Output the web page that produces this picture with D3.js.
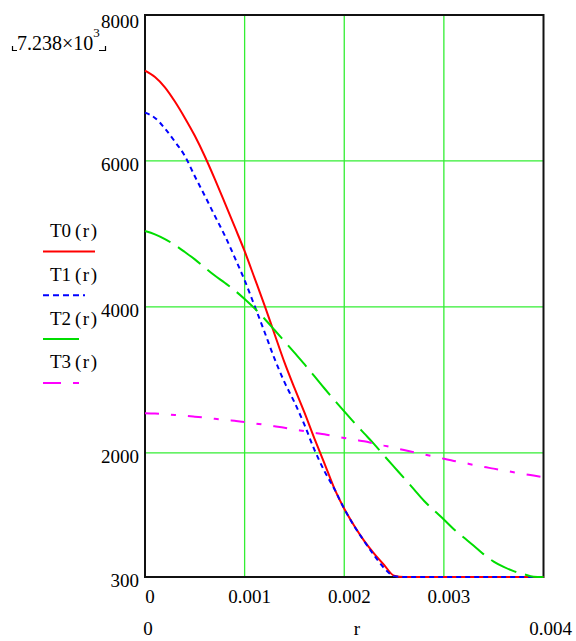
<!DOCTYPE html>
<html lang="en-US">
<head>
<meta charset="utf-8">
<script src="https://d3js.org/d3.v7.min.js"></script>
</head>
<body style="margin:0; background:#fff">
<svg width="576" height="641" font-family="Liberation Serif" font-size="19"></svg>

<script>
// radius samples (m)
var r = [0, 0.0001, 0.0002, 0.0003, 0.0004, 0.0005, 0.0006, 0.0007, 0.0008, 0.0009,
    0.001, 0.0011, 0.0012, 0.0013, 0.0014, 0.0015, 0.0016, 0.0017, 0.0018, 0.0019,
    0.002, 0.0021, 0.0022, 0.0023, 0.0024, 0.0025, 0.0026, 0.0027, 0.0028, 0.0029,
    0.003, 0.0031, 0.0032, 0.0033, 0.0034, 0.0035, 0.0036, 0.0037, 0.0038, 0.0039, 0.004];

// temperatures
var T0 = [7238, 7150, 7010, 6815, 6590, 6345, 6065, 5755, 5430, 5099,
    4764, 4395, 4022, 3630, 3240, 2890, 2555, 2200, 1861, 1515,
    1234, 1002, 795, 620, 465, 318, 300, 300, 300, 300,
    300, 300, 300, 300, 300, 300, 300, 300, 300, 300, 300];
var T1 = [6662, 6590, 6445, 6265, 6069, 5790, 5524, 5251, 4981, 4680,
    4365, 4015, 3657, 3292, 2969, 2694, 2387, 2045, 1754, 1508,
    1235, 997, 791, 596, 423, 312, 300, 300, 300, 300,
    300, 300, 300, 300, 300, 300, 300, 300, 300, 300, 300];
var T2 = [5041, 4995, 4930, 4848, 4752, 4652, 4540, 4430, 4331, 4227,
    4109, 3980, 3838, 3684, 3529, 3373, 3216, 3052, 2886, 2725,
    2570, 2415, 2267, 2120, 1963, 1809, 1656, 1501, 1345, 1213,
    1088, 955, 841, 728, 610, 511, 438, 380, 340, 305, 300];
var T3 = [2545, 2540, 2530, 2520, 2510, 2497, 2483, 2468, 2455, 2440,
    2425, 2405, 2385, 2365, 2345, 2320, 2298, 2275, 2255, 2230,
    2205, 2180, 2160, 2130, 2100, 2070, 2040, 2010, 1980, 1950,
    1920, 1890, 1865, 1835, 1808, 1785, 1760, 1735, 1712, 1690, 1668];

var names = ["T0", "T1", "T2", "T3"];
var yTicks = [300, 2000, 4000, 6000, 8000];
var yGrid = [2000, 4000, 6000];
var xTicks = [0, 0.001, 0.002, 0.003];
var xEnds = ["0", "0.004"];
var xTitle = "r";
var maxMant = "7.238×10", maxExp = "3";

var svg = d3.select("svg");
var x = d3.scaleLinear().domain([0, 0.004]).range([145, 543.5]);
var y = d3.scaleLinear().domain([300, 8000]).range([577, 15]);

var series = [
    {name: names[0], values: T0, color: "#ff0000", dash: null, legendLen: 52},
    {name: names[1], values: T1, color: "#0000ff", dash: "5,4", legendLen: 42, legendDash: "6,4"},
    {name: names[2], values: T2, color: "#00dd00", dash: "28,9", legendLen: 36, legendDash: null},
    {name: names[3], values: T3, color: "#ff00ff", dash: "14,12,5,12", legendLen: 36, legendDash: "18,12,6,12"}
];

// grid
var gridColor = "#33ee33";
svg.append("g").selectAll("line")
    .data(xTicks.filter(d => d > 0))
    .enter().append("line")
    .attr("x1", d => x(d)).attr("x2", d => x(d))
    .attr("y1", y(8000)).attr("y2", y(300))
    .attr("stroke", gridColor).attr("stroke-width", 1.3);
svg.append("g").selectAll("line")
    .data(yGrid)
    .enter().append("line")
    .attr("x1", x(0)).attr("x2", x(0.004))
    .attr("y1", d => y(d)).attr("y2", d => y(d))
    .attr("stroke", gridColor).attr("stroke-width", 1.3);

// frame
svg.append("rect")
    .attr("x", x(0)).attr("y", y(8000))
    .attr("width", x(0.004) - x(0)).attr("height", y(300) - y(8000))
    .attr("fill", "none").attr("stroke", "#111").attr("stroke-width", 2);

// curves
var line = d3.line().curve(d3.curveMonotoneX).x(d => x(d[0])).y(d => y(d[1]));
svg.append("g").selectAll("path")
    .data(series)
    .enter().append("path")
    .attr("d", s => line(r.map((v, i) => [v, s.values[i]])))
    .attr("fill", "none")
    .attr("stroke", s => s.color)
    .attr("stroke-width", 2)
    .attr("stroke-dasharray", s => s.dash);

// y tick labels
svg.append("g").selectAll("text")
    .data(yTicks)
    .enter().append("text")
    .attr("x", 139)
    .attr("y", d => Math.max(y(d) + 10, 28))
    .attr("text-anchor", "end")
    .text(d => d);

// x tick labels
svg.append("g").selectAll("text")
    .data(xTicks)
    .enter().append("text")
    .attr("x", d => x(d) + 5)
    .attr("y", 603)
    .attr("text-anchor", "middle")
    .text(d => d);

svg.append("text").attr("x", 148).attr("y", 635).attr("text-anchor", "middle").text(xEnds[0]);
svg.append("text").attr("x", 572).attr("y", 635).attr("text-anchor", "end").text(xEnds[1]);
svg.append("text").attr("x", 357).attr("y", 635).attr("text-anchor", "middle").text(xTitle);

// max value readout
var mx = svg.append("text").attr("x", 17).attr("y", 50).attr("font-size", 20);
mx.append("tspan").text(maxMant);
mx.append("tspan").attr("dy", -13).attr("font-size", 13).text(maxExp);
svg.append("path").attr("d", "M12.5,46V50.5H17").attr("fill", "none").attr("stroke", "#000").attr("stroke-width", 1.2);
svg.append("path").attr("d", "M99,50.5H105.5V46").attr("fill", "none").attr("stroke", "#000").attr("stroke-width", 1.2);

// legend
var leg = svg.append("g").selectAll("g")
    .data(series)
    .enter().append("g")
    .attr("transform", (d, i) => `translate(0, ${251.5 + i * 43.8})`);
leg.append("text")
    .attr("x", 50).attr("y", -14.5)
    .text(d => d.name + "\u2009(\u200Ar\u200A)");
leg.append("line")
    .attr("x1", 43).attr("x2", d => 43 + d.legendLen)
    .attr("stroke", d => d.color)
    .attr("stroke-width", 2)
    .attr("stroke-dasharray", d => d.legendDash);

svg.selectAll("text").attr("font-family", "Liberation Serif").attr("fill", "#000");
</script>
</body>
</html>
